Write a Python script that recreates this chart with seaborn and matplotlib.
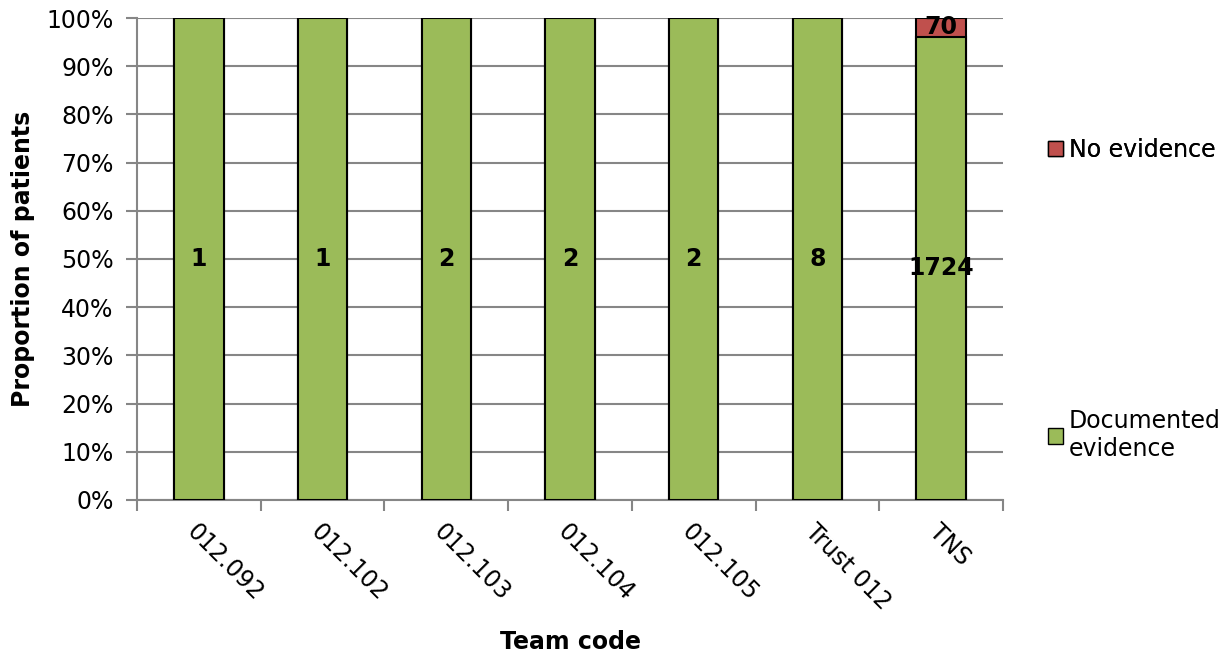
import matplotlib
matplotlib.use("Agg")
import matplotlib.pyplot as plt
import seaborn as sns
import pandas as pd
import numpy as np
from matplotlib.patches import Patch
from matplotlib.ticker import FixedLocator, NullFormatter, PercentFormatter

teams = ["012.092", "012.102", "012.103", "012.104", "012.105", "Trust 012", "TNS"]
documented = [1, 1, 2, 2, 2, 8, 1724]
no_evidence = [0, 0, 0, 0, 0, 0, 70]

GREEN = "#9BBB59"
RED = "#C0504D"
GRID = "#868686"
FS = 17

sns.set_theme(style="white")
plt.rcParams["font.family"] = ["DejaVu Sans"]
plt.rcParams["text.color"] = "black"
plt.rcParams["axes.labelcolor"] = "black"

totals = np.array(documented) + np.array(no_evidence)
df = pd.DataFrame({
    "team": teams,
    "doc_pct": np.array(documented) / totals * 100,
    "total_pct": totals / totals * 100,
})

fig = plt.figure(figsize=(12.28, 6.57), dpi=100)
ax = fig.add_axes([0.1116, 0.239, 0.7052, 0.7336])

# full-height bar (no evidence shows above the documented share)
sns.barplot(data=df, x="team", y="total_pct", color=RED, saturation=1,
            width=0.4, edgecolor="black", linewidth=1.5, ax=ax, zorder=3)
sns.barplot(data=df, x="team", y="doc_pct", color=GREEN, saturation=1,
            width=0.4, edgecolor="black", linewidth=1.5, ax=ax, zorder=3)

# count labels in the middle of each segment
doc_pct = df["doc_pct"].to_numpy()
for i, (d, n) in enumerate(zip(documented, no_evidence)):
    ax.text(i, doc_pct[i] / 2, str(d), ha="center", va="center",
            fontsize=FS, fontweight="bold", color="black", zorder=5)
    if n > 0:
        ax.text(i, doc_pct[i] + (100 - doc_pct[i]) / 2, str(n), ha="center",
                va="center", fontsize=FS, fontweight="bold", color="black",
                zorder=5)

ax.set_xlim(-0.5, len(teams) - 0.5)
ax.set_ylim(0, 100)
ax.yaxis.set_major_locator(FixedLocator(np.arange(0, 101, 10)))
ax.yaxis.set_major_formatter(PercentFormatter(decimals=0))
ax.grid(axis="y", color=GRID, linewidth=1.5, zorder=0)
ax.set_axisbelow(True)

# category labels at centres, tick marks at category boundaries
ax.set_xticks(range(len(teams)))
ax.set_xticklabels(teams, rotation=-45, ha="left", va="top",
                   rotation_mode="anchor", fontsize=FS)
ax.tick_params(axis="x", which="major", length=0, pad=14, labelcolor="black")
ax.set_xticks(np.arange(-0.5, len(teams), 1), minor=True)
ax.xaxis.set_minor_formatter(NullFormatter())
ax.tick_params(axis="x", which="minor", length=8, width=1.5, color=GRID,
               direction="out", bottom=True)
ax.tick_params(axis="y", length=8, width=1.5, color=GRID, direction="out",
               left=True, labelsize=FS, pad=9, labelcolor="black")

for side in ("top", "right"):
    ax.spines[side].set_visible(False)
for side in ("left", "bottom"):
    ax.spines[side].set_color(GRID)
    ax.spines[side].set_linewidth(1.5)

ax.set_xlabel("Team code", fontsize=FS, fontweight="bold", va="center")
ax.xaxis.set_label_coords(0.5, -0.295)
ax.set_ylabel("Proportion of patients", fontsize=FS, fontweight="bold",
              va="center")
ax.yaxis.set_label_coords(-0.132, 0.5)

leg1 = fig.legend(handles=[Patch(facecolor=RED, edgecolor="black", linewidth=1)],
                  labels=["No evidence"], loc="center left",
                  bbox_to_anchor=(0.836, 0.772), frameon=False, fontsize=FS,
                  handlelength=0.65, handleheight=0.65, handletextpad=0.25)
fig.add_artist(leg1)
fig.legend(handles=[Patch(facecolor=GREEN, edgecolor="black", linewidth=1)],
           labels=["Documented\nevidence"], loc="center left",
           bbox_to_anchor=(0.836, 0.338), frameon=False, fontsize=FS,
           handlelength=0.65, handleheight=0.65, handletextpad=0.25)

fig.savefig("out.png", dpi=100)
